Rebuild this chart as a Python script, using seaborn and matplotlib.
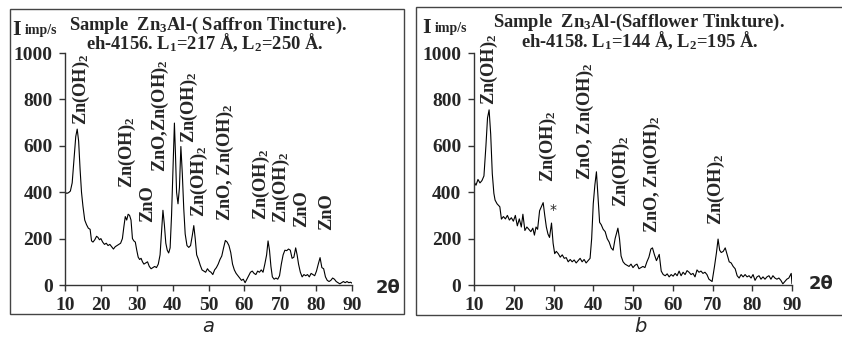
import matplotlib
matplotlib.use("Agg")
import matplotlib.pyplot as plt
from matplotlib.patches import Rectangle
import seaborn as sns
import pandas as pd

# ---- panel a : Zn3Al - Saffron tincture (eh-4156) ----
theta_a = [10, 10.5, 11, 11.5, 12, 12.5, 13, 13.4, 13.8, 14.2, 14.6, 15, 15.5, 16, 16.5, 17, 17.4, 17.8,
           18.3, 18.8, 19.2, 19.6, 20, 20.5, 21, 21.5, 22, 22.5, 23, 23.5, 24, 24.5, 25, 25.5, 26, 26.4,
           26.8, 27.2, 27.6, 28, 28.4, 28.8, 29.2, 29.6, 30, 30.4, 30.8, 31.2, 31.6, 32, 32.5, 33, 33.5,
           34, 34.5, 35, 35.5, 36, 36.5, 37, 37.3, 37.7, 38.1, 38.5, 38.9, 39.3, 39.7, 40.1, 40.5, 40.8,
           41.1, 41.5, 41.9, 42.3, 42.7, 43.1, 43.5, 44, 44.5, 45, 45.5, 45.9, 46.3, 46.7, 47.2, 47.7,
           48.2, 48.7, 49.2, 49.7, 50.2, 50.7, 51.2, 51.7, 52.2, 52.7, 53.2, 53.7, 54.2, 54.7, 55.2,
           55.7, 56.2, 56.7, 57.2, 57.7, 58.2, 58.7, 59.2, 59.7, 60.2, 60.7, 61.2, 61.7, 62.2, 62.7,
           63.2, 63.7, 64.2, 64.7, 65.2, 65.7, 66.2, 66.6, 67, 67.4, 67.8, 68.3, 68.8, 69.3, 69.8, 70.3,
           70.8, 71.3, 71.8, 72.3, 72.8, 73.3, 73.8, 74.3, 74.7, 75.1, 75.6, 76.1, 76.6, 77.1, 77.6,
           78.1, 78.6, 79.1, 79.6, 80.1, 80.6, 81.1, 81.6, 82.1, 82.6, 83.1, 83.6, 84.1, 84.6, 85.1,
           85.6, 86.1, 86.6, 87.1, 87.6, 88.1, 88.6, 89.1, 89.6, 90]
counts_a = [400, 395, 398, 405, 440, 540, 640, 672, 620, 500, 400, 340, 280, 260, 245, 240, 190, 185,
            195, 210, 205, 195, 200, 185, 175, 180, 170, 175, 165, 155, 165, 170, 175, 180, 200, 250,
            295, 280, 305, 300, 280, 200, 190, 185, 150, 120, 110, 115, 100, 90, 95, 100, 80,
            70, 75, 80, 75, 90, 130, 250, 322, 260, 180, 150, 138, 160, 300, 500, 698, 560,
            400, 350, 420, 597, 480, 330, 220, 170, 162, 170, 215, 256, 200, 130, 110, 85,
            65, 60, 55, 70, 60, 55, 45, 65, 75, 90, 110, 125, 160, 192, 185,
            170, 140, 90, 65, 50, 40, 30, 20, 25, 10, 25, 40, 55, 60, 50,
            45, 60, 55, 65, 55, 90, 130, 190, 150, 80, 35, 25, 30, 25, 40, 90,
            130, 150, 148, 155, 150, 115, 120, 160, 130, 90, 55, 35, 45, 40, 45,
            35, 50, 45, 40, 60, 90, 118, 75, 70, 35, 20, 15, 20, 30, 25,
            15, 10, 5, 10, 15, 10, 15, 10, 12, 8]

labels_a = ["Zn(OH)$_2$", "Zn(OH)$_2$", "ZnO", "ZnO,Zn(OH)$_2$", "Zn(OH)$_2$", "Zn(OH)$_2$",
            "ZnO, Zn(OH)$_2$", "Zn(OH)$_2$", "Zn(OH)$_2$", "ZnO", "ZnO"]
label_x_a = [14.6, 27.3, 33.1, 36.5, 44.8, 47.6, 54.8, 64.8, 70.4, 75.9, 82.9]
label_y_a = [690, 418, 272, 487, 612, 293, 278, 281, 266, 252, 237]

# ---- panel b : Zn3Al - Safflower tincture (eh-4158) ----
theta_b = [10, 10.5, 11, 11.5, 12, 12.5, 13, 13.4, 13.8, 14.2, 14.6, 15, 15.3, 15.8, 16.5, 16.9, 17.4,
           17.9, 18.4, 18.9, 19.4, 19.9, 20.4, 20.9, 21.4, 21.9, 22.3, 22.8, 23.3, 23.8, 24.3, 24.8,
           25.2, 25.6, 26, 26.5, 27, 27.4, 27.8, 28.2, 28.6, 29, 29.5, 29.9, 30.3, 30.7, 31.2, 31.7,
           32.2, 32.7, 33.2, 33.7, 34.2, 34.7, 35.2, 35.7, 36.2, 36.7, 37.2, 37.7, 38.2, 38.7, 39.2,
           39.6, 40, 40.4, 40.8, 41.2, 41.6, 42, 42.5, 43, 43.5, 44, 44.5, 45, 45.5, 46.2, 46.6, 47,
           47.5, 48, 48.5, 49, 49.5, 50, 50.5, 51, 51.5, 52, 52.5, 53, 53.5, 54, 54.5, 54.9, 55.4,
           55.9, 56.6, 57.1, 57.6, 58.1, 58.6, 59.1, 59.6, 60.1, 60.6, 61.1, 61.6, 62.1, 62.6, 63.1,
           63.6, 64.1, 64.6, 65.1, 65.6, 66.1, 66.6, 67.1, 67.6, 68.1, 68.6, 69.1, 69.9, 70.5, 71,
           71.4, 71.8, 72.2, 72.7, 73.2, 73.7, 74.2, 74.7, 75.2, 75.7, 76.2, 76.7, 77.2, 77.7, 78.2,
           78.7, 79.2, 79.7, 80.2, 80.7, 81.2, 81.7, 82.2, 82.7, 83.2, 83.7, 84.2, 84.7, 85.2, 85.7,
           86.2, 86.7, 87.2, 87.7, 88.2, 88.7, 89.2, 89.8, 90]
counts_b = [445, 430, 455, 440, 450, 470, 600, 720, 755, 650, 480, 395, 366, 350, 337, 284, 295,
            285, 300, 280, 290, 275, 300, 255, 285, 250, 305, 235, 250, 240, 230, 245,
            215, 250, 240, 320, 340, 355, 300, 250, 220, 205, 267, 180, 135, 145, 135, 120,
            130, 115, 118, 100, 110, 100, 108, 95, 105, 115, 100, 110, 95, 105, 115,
            200, 350, 430, 488, 380, 270, 260, 240, 230, 200, 185, 160, 150, 200, 245, 200, 125,
            100, 90, 85, 80, 90, 75, 85, 90, 70, 75, 80, 75, 100, 120, 155, 160, 130,
            105, 132, 60, 45, 40, 48, 35, 45, 38, 50, 40, 60, 40, 55, 45,
            62, 55, 45, 50, 35, 65, 55, 60, 50, 55, 45, 25, 15, 80, 140,
            198, 150, 140, 145, 160, 130, 100, 95, 80, 70, 40, 30, 45, 35, 45,
            35, 40, 30, 45, 20, 35, 40, 25, 35, 25, 35, 40, 25, 40, 30,
            25, 30, 20, 5, 15, 25, 30, 50, 5]

labels_b = ["Zn(OH)$_2$", "Zn(OH)$_2$", "ZnO, Zn(OH)$_2$", "Zn(OH)$_2$", "ZnO, Zn(OH)$_2$", "Zn(OH)$_2$"]
label_x_b = [14.0, 28.7, 38.0, 47.2, 54.8, 70.9]
label_y_b = [777, 446, 453, 338, 223, 259]

sns.set_style("ticks")
plt.rcParams["font.family"] = ["Liberation Serif", "DejaVu Serif"]
plt.rcParams["font.weight"] = "bold"
plt.rcParams["mathtext.fontset"] = "custom"
plt.rcParams["mathtext.rm"] = "Liberation Serif:bold"
plt.rcParams["mathtext.bf"] = "Liberation Serif:bold"
plt.rcParams["mathtext.it"] = "Liberation Serif:bold"

fig = plt.figure(figsize=(8.42, 3.40), dpi=100)

# outer frames of the two panels
fig.patches.append(Rectangle((10 / 842, 1 - 314 / 340), 394 / 842, 305 / 340, transform=fig.transFigure,
                             fill=False, edgecolor="#444444", lw=1.0))
fig.patches.append(Rectangle((416 / 842, 1 - 315 / 340), 430 / 842, 308 / 340, transform=fig.transFigure,
                             fill=False, edgecolor="#444444", lw=1.0))

ax_a = fig.add_axes([65 / 842, 1 - 285 / 340, 287 / 842, 232 / 340])
ax_b = fig.add_axes([474 / 842, 1 - 285 / 340, 318 / 842, 232 / 340])

panels = [
    (ax_a, theta_a, counts_a, labels_a, label_x_a, label_y_a),
    (ax_b, theta_b, counts_b, labels_b, label_x_b, label_y_b),
]

for ax, th, cnt, labs, lx, ly in panels:
    df = pd.DataFrame({"theta": th, "counts": cnt})
    sns.lineplot(data=df, x="theta", y="counts", ax=ax, color="black", lw=0.8)
    ax.set_xlim(10, 90)
    ax.set_ylim(0, 1000)
    ax.set_xticks(range(10, 91, 10))
    ax.set_yticks(range(0, 1001, 200))
    ax.set_xlabel("")
    ax.set_ylabel("")
    ax.set_facecolor("none")
    sns.despine(ax=ax)
    for side in ["left", "bottom"]:
        ax.spines[side].set_color("#333333")
        ax.spines[side].set_linewidth(1.0)
    ax.tick_params(axis="both", direction="out", length=4, width=1.0, color="#333333",
                   labelsize=14, pad=5)
    for t in ax.get_xticklabels() + ax.get_yticklabels():
        t.set_fontweight("bold")
    for s, x, y in zip(labs, lx, ly):
        ax.text(x, y, s, rotation=90, ha="center", va="bottom", fontsize=13.2,
                fontweight="bold", clip_on=False)

ax_b.text(30.0, 324, "*", ha="center", va="center", fontsize=10, family="DejaVu Sans",
          fontweight="normal")

# "2θ" axis markers
fig.text(388 / 842, 1 - 288 / 340, "2θ", ha="center", va="center", fontsize=13,
         family="DejaVu Sans", fontweight="bold")
fig.text(821 / 842, 1 - 284 / 340, "2θ", ha="center", va="center", fontsize=13,
         family="DejaVu Sans", fontweight="bold")

# y-axis unit labels
fig.text(12 / 842, 1 - 35 / 340, "I", fontsize=16, fontweight="bold", va="baseline")
fig.text(25 / 842, 1 - 34 / 340, "imp/s", fontsize=10, fontweight="bold", va="baseline")
fig.text(422 / 842, 1 - 33 / 340, "I", fontsize=16, fontweight="bold", va="baseline")
fig.text(435 / 842, 1 - 32 / 340, "imp/s", fontsize=10, fontweight="bold", va="baseline")

# titles
fig.text(208 / 842, 1 - 30 / 340, "Sample  Zn$_3$Al-( Saffron Tincture).", ha="center",
         va="baseline", fontsize=13.3, fontweight="bold")
fig.text(205 / 842, 1 - 49.5 / 340, "eh-4156. L$_1$=217 Å, L$_2$=250 Å.", ha="center",
         va="baseline", fontsize=13.3, fontweight="bold")
fig.text(639 / 842, 1 - 26.5 / 340, "Sample  Zn$_3$Al-(Safflower Tinkture).", ha="center",
         va="baseline", fontsize=13.3, fontweight="bold")
fig.text(640 / 842, 1 - 47 / 340, "eh-4158. L$_1$=144 Å, L$_2$=195 Å.", ha="center",
         va="baseline", fontsize=13.3, fontweight="bold")

# panel letters
fig.text(208 / 842, 1 - 327 / 340, "a", ha="center", va="center", fontsize=14,
         family="DejaVu Sans", style="italic", fontweight="normal")
fig.text(640 / 842, 1 - 327 / 340, "b", ha="center", va="center", fontsize=14,
         family="DejaVu Sans", style="italic", fontweight="normal")

fig.savefig("out.png", dpi=100)
